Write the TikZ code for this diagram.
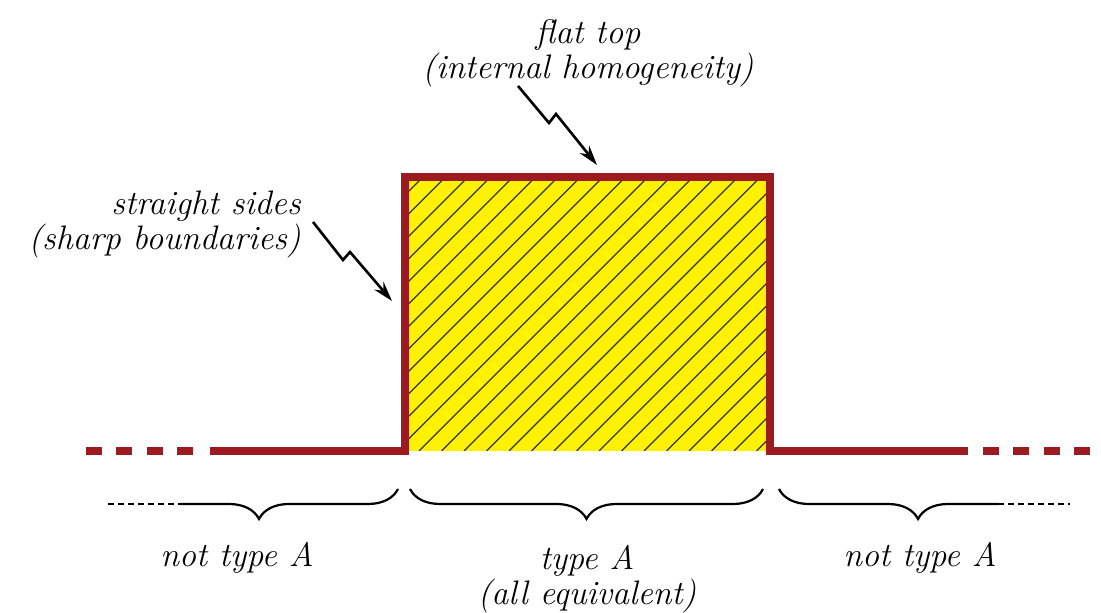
\documentclass[tikz,border=0pt]{standalone}
\usepackage{tikz}
\usetikzlibrary{arrows.meta,decorations.pathreplacing}
\definecolor{ProtoRed}{HTML}{9C1B20}
\definecolor{ProtoYellow}{HTML}{FFF200}
\definecolor{ProtoHatch}{HTML}{33333D}

\begin{document}
\begin{tikzpicture}[x=0.5pt,y=-0.5pt,
    edge/.style={line width=4.2pt,ProtoRed,line join=miter},
    tail/.style={edge,dash pattern=on 8pt off 7.2pt},
    hatch/.style={ProtoHatch,line width=0.6pt},
    curly/.style={decorate,decoration={brace,mirror,amplitude=15pt},line width=1.1pt},
    trail/.style={line width=1pt,dash pattern=on 3pt off 2pt},
    zap/.style={-{Stealth[length=10pt,width=6pt]},line width=1.3pt},
    lbl/.style={font=\fontsize{17}{17.5}\selectfont\itshape,inner sep=0pt}
  ]
  \useasboundingbox (0,0) rectangle (1101,613);
  % yellow block, hatched
  \fill[ProtoYellow] (405,177) rectangle (770,451);
  \begin{scope}
    \clip (405,177) rectangle (770,451);
    \foreach \x in {104,126.5,...,790}
      \draw[hatch] (\x,451) -- ++(274,-274);
  \end{scope}
  % the red profile
  \draw[edge] (210,451) -- (405,451) -- (405,177) -- (770,177) -- (770,451) -- (968,451);
  \draw[tail] (86,451) -- (195,451);
  \draw[tail] (983,451) -- (1090,451);

  % braces underneath
  \draw[trail] (108,504) -- (180,504);
  \begin{scope}
    \clip (180,470) rectangle (420,540);
    \draw[curly] (120,489) -- (398,489);
  \end{scope}
  \draw[curly] (410,489) -- (763,489);
  \begin{scope}
    \clip (760,470) rectangle (998,540);
    \draw[curly] (779,489) -- (1057,489);
  \end{scope}
  \draw[trail] (998,504) -- (1070,504);

  % labels
  \node[lbl,align=center] (flattop) at (588,53) {flat top\\(internal homogeneity)};
  \node[lbl,align=right,anchor=east] (sides) at (301,224) {straight sides\\(sharp boundaries)};
  \node[lbl,anchor=base] (notA left) at (237,566) {not type A};
  \node[lbl,align=center] (typeA) at (587,579) {type A\\(all equivalent)};
  \node[lbl,anchor=base] (notA right) at (920,566) {not type A};

  % zigzag pointers
  \coordinate (top tip) at (597,165);
  \coordinate (side tip) at (392,301);
  \draw[zap] (518,86) -- (549,123) -- (556,114) -- (top tip);
  \draw[zap] (313,222) -- (343,260) -- (350,252) -- (side tip);
\end{tikzpicture}
\end{document}
